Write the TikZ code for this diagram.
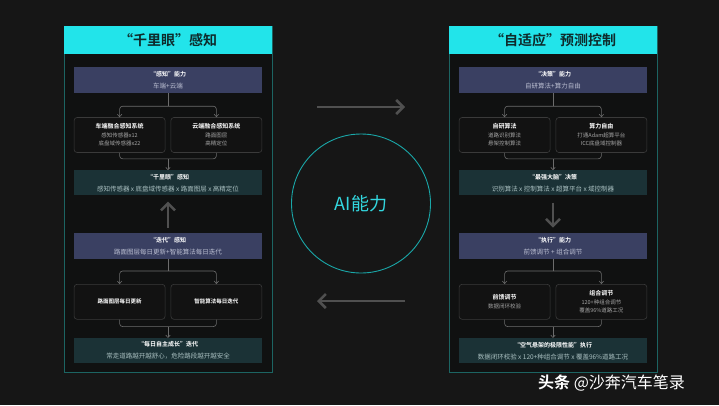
\documentclass[tikz,border=0pt]{standalone}
\usepackage{fontspec}
\setmainfont{Noto Sans CJK SC}[BoldFont={Noto Sans CJK SC Bold}]
\usetikzlibrary{arrows.meta, positioning}

\definecolor{bg_dark}{HTML}{161616}
\definecolor{panel_dark}{HTML}{101111}
\definecolor{panel_line}{HTML}{1C6462}
\definecolor{title_cyan}{HTML}{22E4EA}
\definecolor{title_text}{HTML}{0E2B2C}
\definecolor{box_blue}{HTML}{3A4062}
\definecolor{box_teal}{HTML}{1B3236}
\definecolor{blue_sub}{HTML}{B9BDD0}
\definecolor{teal_sub}{HTML}{A9BFC0}
\definecolor{sub_dark}{HTML}{121212}
\definecolor{sub_line}{HTML}{3A3A3A}
\definecolor{sub_text}{HTML}{A4A4A4}
\definecolor{bracket_gray}{HTML}{6C6C6C}
\definecolor{arrow_gray}{HTML}{505050}
\definecolor{ai_cyan}{HTML}{1AA7A8}
\definecolor{ai_text}{HTML}{33D8E0}

\begin{document}
\begin{tikzpicture}[x=1pt, y=-1pt,
      panel/.style={draw=panel_line, line width=1pt, fill=panel_dark},
      titlebar/.style={fill=title_cyan, minimum width=208pt, minimum height=28pt, inner sep=0pt, font=\fontsize{14}{16}\selectfont\bfseries, text=title_text},
      bluebox/.style={fill=box_blue, minimum width=188pt, minimum height=26pt, inner sep=1pt, align=center, font=\fontsize{6}{12}\selectfont, text=white},
      tealbox/.style={bluebox, fill=box_teal, minimum height=25pt},
      subbox/.style={draw=sub_line, line width=0.6pt, fill=sub_dark, rounded corners=3pt, minimum width=91pt, minimum height=35pt, inner sep=1pt, align=center, font=\fontsize{5.5}{8.5}\selectfont, text=white},
      bracket/.style={draw=bracket_gray, line width=0.6pt, rounded corners=3pt},
      arrow/.style={bracket, -{Straight Barb[length=2.5pt, width=4.5pt]}},
      bigarrow/.style={draw=arrow_gray, line width=2.5pt, -{Straight Barb[length=7pt, width=14pt]}}
    ]

      % Page background
      \fill[bg_dark] (0,0) rectangle (719,405);
      \useasboundingbox (0,0) rectangle (719,405);

      % ---------------- Left panel: perception ----------------
      \draw[panel] (64,26) rectangle (272,372);
      \node[titlebar] (left_title) at (168,40) {“千里眼”感知};

      \node[bluebox] (left_cap) at (168,80) {{\bfseries “感知”能力}\\{\fontsize{6.5}{12}\selectfont\color{blue_sub}车端+云端}};
      \node[subbox, below right=24pt and 0pt of left_cap.south west] (left_sub_a) {{\bfseries\fontsize{6}{8.5}\selectfont 车端融合感知系统}\\\textcolor{sub_text}{感知传感器x12}\\\textcolor{sub_text}{底盘域传感器x22}};
      \node[subbox, below left=24pt and 0pt of left_cap.south east] (left_sub_b) {{\bfseries\fontsize{6}{8.5}\selectfont 云端融合感知系统}\\\textcolor{sub_text}{路面图层}\\\textcolor{sub_text}{高精定位}};
      \node[tealbox, below=77pt of left_cap] (left_sense) {{\bfseries “千里眼”感知}\\{\fontsize{6.5}{12}\selectfont\color{teal_sub}感知传感器 x 底盘域传感器 x 路面图层 x 高精定位}};

      \node[bluebox, below=37pt of left_sense] (left_iter) {{\bfseries “迭代”感知}\\{\fontsize{6.5}{12}\selectfont\color{blue_sub}路面图层每日更新+智能算法每日迭代}};
      \node[subbox, below right=25pt and 0pt of left_iter.south west] (left_sub_c) {{\bfseries 路面图层每日更新}};
      \node[subbox, below left=25pt and 0pt of left_iter.south east] (left_sub_d) {{\bfseries 智能算法每日迭代}};
      \node[tealbox, below=79pt of left_iter] (left_grow) {{\bfseries “每日自主成长”迭代}\\{\fontsize{6.5}{12}\selectfont\color{teal_sub}常走道路越开越舒心，危险路段越开越安全}};

      % Split and join brackets
      \draw[bracket] (left_cap.south) -- ++(0,13) coordinate (left_split_a);
      \draw[arrow] (left_split_a) -| (left_sub_a.north);
      \draw[arrow] (left_split_a) -| (left_sub_b.north);
      \draw[bracket] (left_sub_a.south) -- ++(0,6) -| (left_sub_b.south);
      \draw[arrow] (left_sense.north |- left_sub_a.south) ++(0,6) -- (left_sense.north);

      \draw[bracket] (left_iter.south) -- ++(0,12) coordinate (left_split_b);
      \draw[arrow] (left_split_b) -| (left_sub_c.north);
      \draw[arrow] (left_split_b) -| (left_sub_d.north);
      \draw[bracket] (left_sub_c.south) -- ++(0,7) -| (left_sub_d.south);
      \draw[arrow] (left_grow.north |- left_sub_c.south) ++(0,7) -- (left_grow.north);

      % Iteration feeds perception
      \draw[bigarrow] ([yshift=5pt]left_iter.north) -- ([yshift=-6pt]left_sense.south);

      % ---------------- Right panel: control ----------------
      \draw[panel] (449,26) rectangle (657,372);
      \node[titlebar] (right_title) at (553,40) {“自适应”预测控制};

      \node[bluebox] (right_cap) at (553,80) {{\bfseries “决策”能力}\\{\fontsize{6.5}{12}\selectfont\color{blue_sub}自研算法+算力自由}};
      \node[subbox, below right=24pt and 0pt of right_cap.south west] (right_sub_a) {{\bfseries\fontsize{6}{8.5}\selectfont 自研算法}\\\textcolor{sub_text}{道路识别算法}\\\textcolor{sub_text}{悬架控制算法}};
      \node[subbox, below left=24pt and 0pt of right_cap.south east] (right_sub_b) {{\bfseries\fontsize{6}{8.5}\selectfont 算力自由}\\\textcolor{sub_text}{打通Adam超算平台}\\\textcolor{sub_text}{ICC底盘域控制器}};
      \node[tealbox, below=77pt of right_cap] (right_brain) {{\bfseries “最强大脑”决策}\\{\fontsize{6.5}{12}\selectfont\color{teal_sub}识别算法 x 控制算法 x 超算平台 x 域控制器}};

      \node[bluebox, below=37pt of right_brain] (right_exec) {{\bfseries “执行”能力}\\{\fontsize{6.5}{12}\selectfont\color{blue_sub}前馈调节 + 组合调节}};
      \node[subbox, below right=25pt and 0pt of right_exec.south west] (right_sub_c) {{\bfseries\fontsize{6}{8.5}\selectfont 前馈调节}\\\textcolor{sub_text}{数据闭环校验}};
      \node[subbox, below left=25pt and 0pt of right_exec.south east] (right_sub_d) {{\bfseries\fontsize{6}{8.5}\selectfont 组合调节}\\\textcolor{sub_text}{120+种组合调节}\\\textcolor{sub_text}{覆盖96\%道路工况}};
      \node[tealbox, below=79pt of right_exec] (right_limit) {{\bfseries “空气悬架的极限性能”执行}\\{\fontsize{6.5}{12}\selectfont\color{teal_sub}数据闭环校验 x 120+种组合调节 x 覆盖96\%道路工况}};

      % Split and join brackets
      \draw[bracket] (right_cap.south) -- ++(0,13) coordinate (right_split_a);
      \draw[arrow] (right_split_a) -| (right_sub_a.north);
      \draw[arrow] (right_split_a) -| (right_sub_b.north);
      \draw[bracket] (right_sub_a.south) -- ++(0,6) -| (right_sub_b.south);
      \draw[arrow] (right_brain.north |- right_sub_a.south) ++(0,6) -- (right_brain.north);

      \draw[bracket] (right_exec.south) -- ++(0,12) coordinate (right_split_b);
      \draw[arrow] (right_split_b) -| (right_sub_c.north);
      \draw[arrow] (right_split_b) -| (right_sub_d.north);
      \draw[bracket] (right_sub_c.south) -- ++(0,7) -| (right_sub_d.south);
      \draw[arrow] (right_limit.north |- right_sub_c.south) ++(0,7) -- (right_limit.north);

      % Decision drives execution
      \draw[bigarrow] ([yshift=-7pt]right_brain.south) -- ([yshift=5pt]right_exec.north);

      % ---------------- Centre: AI ring and exchange arrows ----------------
      \node[circle, draw=ai_cyan, line width=0.9pt, minimum size=139pt, inner sep=0pt, font=\fontsize{18}{20}\selectfont, text=ai_text] (ai_ring) at (361,203.5) {AI能力};

      \coordinate (top_from) at (317,107);
      \coordinate (top_to) at (405,107);
      \coordinate (bottom_from) at (405,301);
      \coordinate (bottom_to) at (317,301);
      \draw[bigarrow] (top_from) -- (top_to);
      \draw[bigarrow] (bottom_from) -- (bottom_to);

      % Watermark
      \node[anchor=west, inner sep=0pt, font=\fontsize{16}{18}\selectfont, text=white] (water_mark) at (538,383) {{\bfseries 头条} @沙奔汽车笔录};

    \end{tikzpicture}
\end{document}
